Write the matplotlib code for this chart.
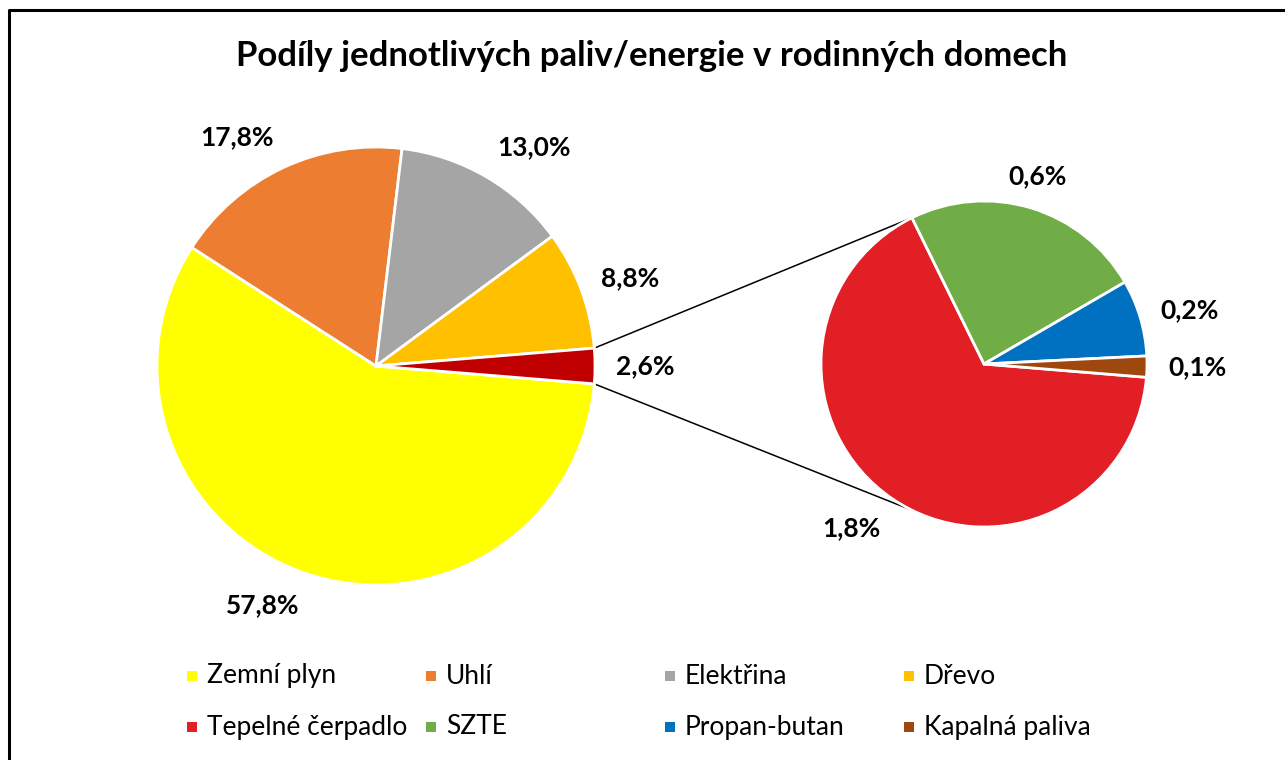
import matplotlib.pyplot as plt
from matplotlib.patches import Rectangle
import numpy as np

plt.rcParams['font.family'] = ['Lato', 'DejaVu Sans']

# hlavni kolac
main_names = ['Zemní plyn', 'Uhlí', 'Elektřina', 'Dřevo', 'Ostatní']
main_values = [57.8, 17.8, 13.0, 8.8, 2.6]
main_colors = ['#FFFF00', '#ED7D31', '#A5A5A5', '#FFC000', '#C00000']

# rozpad "ostatni"
sub_names = ['Tepelné čerpadlo', 'SZTE', 'Propan-butan', 'Kapalná paliva']
sub_values = [1.75, 0.63, 0.20, 0.055]
sub_colors = ['#E31F26', '#70AD47', '#0070C0', '#9E480E']

title = 'Podíly jednotlivých paliv/energie v rodinných domech'

W, H = 1285, 760
fig = plt.figure(figsize=(W / 100, H / 100), dpi=100)
ax = fig.add_axes([0, 0, 1, 1])

def pct(v):
    return f'{v:.1f}'.replace('.', ',') + '%'

def put_labels(wedges, values, cx, cy, r, gap=21):
    for w, v in zip(wedges, values):
        mid = np.deg2rad((w.theta1 + w.theta2) / 2)
        c, s = np.cos(mid), np.sin(mid)
        ha = 'center' if abs(c) < 0.305 else ('left' if c > 0 else 'right')
        fy = np.sign(s) * np.clip((abs(s) - 0.2) / 0.5, 0, 1)
        ax.text(cx + (r + gap) * c, cy + (r + gap) * s + fy * 12, pct(v),
                ha=ha, va='center', fontsize=19, fontweight='bold', color='black')

main_c, main_r = (376, 394), 219
sub_c, sub_r = (984, 396), 163
start = 360 - main_values[-1] / sum(main_values) * 180

wp = dict(edgecolor='white', linewidth=2)
mw, _ = ax.pie(main_values, colors=main_colors, startangle=start, counterclock=False,
               center=main_c, radius=main_r, wedgeprops=wp)
sw, _ = ax.pie(sub_values, colors=sub_colors, startangle=start, counterclock=False,
               center=sub_c, radius=sub_r, wedgeprops=wp)

put_labels(mw, main_values, *main_c, main_r)
put_labels(sw, sub_values, *sub_c, sub_r)

# spojovaci cary
other = mw[-1]
a_top = np.deg2rad(sw[0].theta1)
for sign, ang in [(1, other.theta2), (-1, other.theta1)]:
    t = np.deg2rad(ang)
    x0 = main_c[0] + main_r * np.cos(t)
    y0 = main_c[1] + main_r * np.sin(t)
    x1 = sub_c[0] + sub_r * np.cos(a_top)
    y1 = sub_c[1] + sign * sub_r * np.sin(a_top)
    ax.plot([x0, x1], [y0, y1], color='black', lw=1.1, zorder=0)

ax.text(652, 704, title, ha='center', va='center', fontsize=25, fontweight='bold')

# legenda
leg_colors = main_colors[:4] + sub_colors
leg_names = main_names[:4] + sub_names
for i, (name, col) in enumerate(zip(leg_names, leg_colors)):
    x = 187 + 239 * (i % 4)
    y = 760 - (676 + 51 * (i // 4))
    ax.add_patch(Rectangle((x, y - 5), 10, 10, color=col, lw=0))
    ax.text(x + 20, y, name, ha='left', va='center', fontsize=19)

# ramecek
ax.plot([9, 9, W], [0, 750, 750], color='black', lw=2.2, clip_on=False)

ax.set_xlim(0, W)
ax.set_ylim(0, H)
ax.set_aspect('equal')
ax.axis('off')

fig.savefig('out.png', dpi=100, facecolor='white')
